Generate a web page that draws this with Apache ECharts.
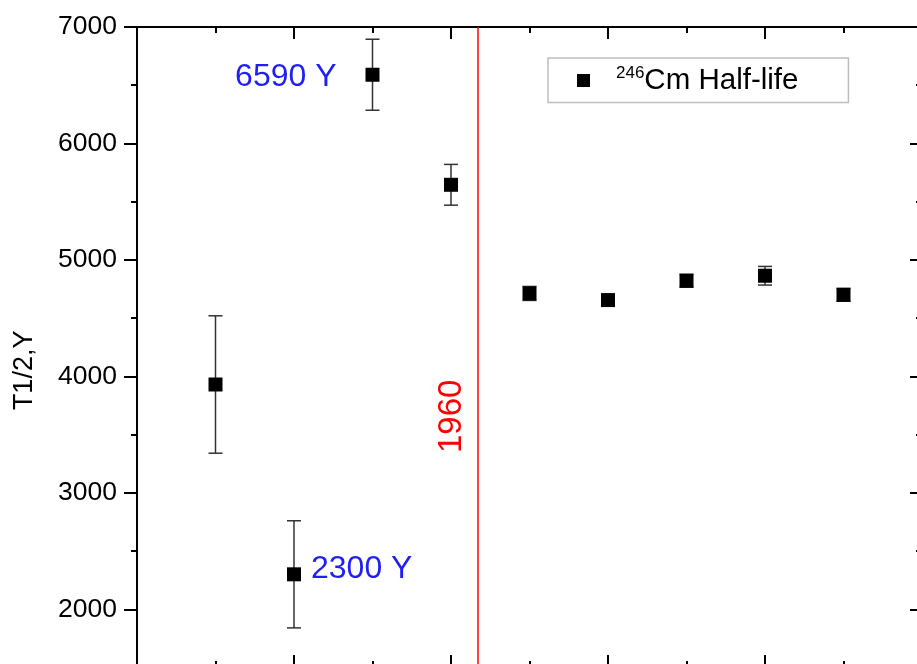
<!DOCTYPE html>
<html>
<head>
<meta charset="utf-8">
<script src="https://cdn.jsdelivr.net/npm/echarts@6/dist/echarts.min.js"></script>
<style>
html,body{margin:0;padding:0;background:#fff;}
#chart{width:917px;height:664px;}
</style>
</head>
<body>
<div id="chart"></div>
<script>
// ---- data ----
const xPositions = [1, 2, 3, 4, 5, 6, 7, 8, 9];
const halfLife   = [3930, 2300, 6590, 5645, 4712, 4655, 4821, 4864, 4700];
const halfErr    = [590, 460, 305, 175, 60, 30, 55, 80, 55];
const pointNotes = ['', '2300 Y', '6590 Y', '', '', '', '', '', ''];
const yAxisMin = 1000, yAxisMax = 7000, yAxisStep = 1000;
const xAxisMin = 0, xAxisMax = 10, xAxisStep = 2;
const dividerX = 4.34;
const dividerLabel = '1960';
const dividerLabelY = 3657;
const seriesName = '246Cm Half-life';
const yAxisTitle = 'T1/2,Y';

// ---- chart ----
const FONT = "'Liberation Sans', Arial, sans-serif";
const chart = echarts.init(document.getElementById('chart'));

const LINE = {show: true, onZero: false, lineStyle: {color: '#000', width: 2}};
function xAx(pos, offset) {
  return {
    type: 'value', min: xAxisMin, max: xAxisMax, interval: xAxisStep, position: pos, offset: offset,
    axisLine: LINE,
    axisTick: {show: true, inside: true, length: 12, lineStyle: {color: '#000', width: 2}},
    minorTick: {show: true, splitNumber: 2, length: 6, lineStyle: {color: '#000', width: 2}},
    axisLabel: {show: false},
    splitLine: {show: false}
  };
}
function yAx(pos, inside) {
  return {
    type: 'value', min: yAxisMin, max: yAxisMax, interval: yAxisStep, position: pos,
    axisLine: LINE,
    axisTick: {show: true, inside: inside, length: inside ? 12 : 13, lineStyle: {color: '#000', width: 2}},
    minorTick: {show: true, splitNumber: 2, length: 6, lineStyle: {color: '#000', width: 2}},
    axisLabel: {show: false},
    splitLine: {show: false}
  };
}
const yMain = yAx('left', false);
yMain.axisLabel = {show: true, margin: 20, fontSize: 26.5, color: '#000', fontFamily: FONT,
  formatter: function (v) { return String(v); }};
yMain.name = yAxisTitle;
yMain.nameLocation = 'middle';
yMain.nameRotate = 90;
yMain.nameGap = 99;
yMain.nameTextStyle = {fontSize: 27, color: '#000', fontFamily: FONT, padding: [0, 0, 0, 12]};

const scatterData = xPositions.map((x, i) => {
  const item = {value: [x, halfLife[i]]};
  if (pointNotes[i]) {
    const leftSide = halfLife[i] > 6000;
    item.label = {
      show: true,
      formatter: pointNotes[i],
      position: leftSide ? 'left' : 'right',
      distance: leftSide ? 29 : 10,
      offset: leftSide ? [0, 2] : [0, -5],
      fontSize: 32, color: '#1f1ff5', fontFamily: FONT
    };
  }
  return item;
});
const errData = xPositions.map((x, i) => [x, halfLife[i] - halfErr[i], halfLife[i] + halfErr[i]]);

chart.setOption({
  animation: false,
  backgroundColor: '#fff',
  grid: {left: 137, top: 27, right: -5, bottom: -61.7, containLabel: false, outerBoundsMode: 'none'},
  xAxis: [xAx('bottom', -58.7), xAx('top', 0)],
  yAxis: [yMain, yAx('right', true)],
  legend: {
    data: [seriesName],
    left: 548, top: 58,
    orient: 'horizontal',
    backgroundColor: '#fff',
    borderColor: '#bdbdbd', borderWidth: 1.5,
    padding: [7, 50, 7, 29],
    icon: 'rect', itemWidth: 13, itemHeight: 13,
    itemStyle: {color: '#000'},
    formatter: function (n) { return '{sup|246}{main|Cm Half-life}'; },
    textStyle: {
      color: '#000', fontFamily: FONT,
      rich: {
        sup: {fontSize: 17, fontFamily: FONT, color: '#000', padding: [0, 0, 14, 21], verticalAlign: 'top'},
        main: {fontSize: 29.5, fontFamily: FONT, color: '#000'}
      }
    }
  },
  series: [
    {
      type: 'custom',
      name: 'err',
      xAxisIndex: 0, yAxisIndex: 0,
      data: errData,
      z: 2,
      renderItem: function (params, api) {
        const x = api.value(0);
        const lo = api.coord([x, api.value(1)]);
        const hi = api.coord([x, api.value(2)]);
        const cw = 7;
        const st = {stroke: '#333', lineWidth: 1.5};
        return {
          type: 'group',
          children: [
            {type: 'line', shape: {x1: lo[0], y1: lo[1], x2: hi[0], y2: hi[1]}, style: st},
            {type: 'line', shape: {x1: lo[0] - cw, y1: lo[1], x2: lo[0] + cw, y2: lo[1]}, style: st},
            {type: 'line', shape: {x1: hi[0] - cw, y1: hi[1], x2: hi[0] + cw, y2: hi[1]}, style: st}
          ]
        };
      }
    },
    {
      type: 'scatter',
      name: seriesName,
      xAxisIndex: 0, yAxisIndex: 0,
      symbol: 'rect', symbolSize: 14,
      itemStyle: {color: '#000', opacity: 1},
      z: 5,
      data: scatterData,
      markLine: {
        silent: true, symbol: 'none',
        label: {show: false},
        lineStyle: {color: '#ff0000', width: 1.5, type: 'solid'},
        data: [{xAxis: dividerX}]
      },
      markPoint: {
        silent: true,
        symbol: 'circle', symbolSize: 0,
        data: [{coord: [dividerX, dividerLabelY], value: dividerLabel}],
        label: {
          show: true, formatter: dividerLabel, rotate: 90,
          fontSize: 33, color: '#ff0000', fontFamily: FONT,
          offset: [0, -26]
        }
      }
    }
  ]
});
</script>
</body>
</html>
